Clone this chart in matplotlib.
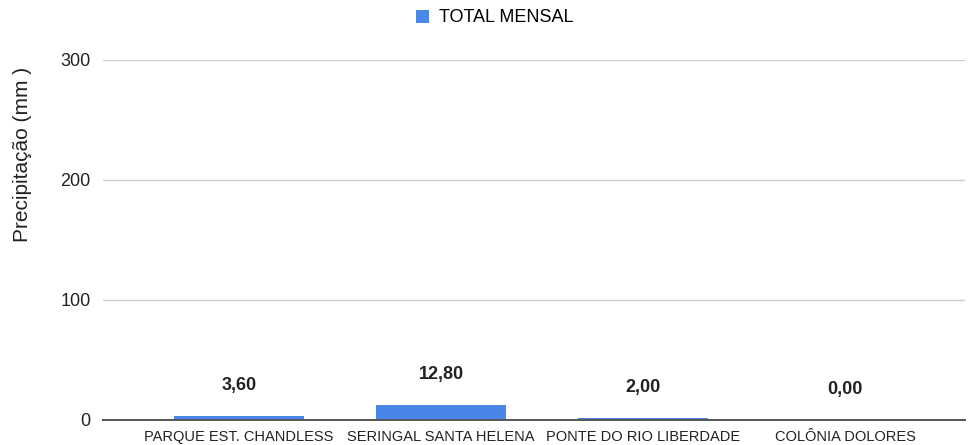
import matplotlib.pyplot as plt

plt.rcParams['font.family'] = ['Liberation Sans', 'DejaVu Sans']

# -----------------------------
# Data
# -----------------------------
stations = ["PARQUE EST. CHANDLESS", "SERINGAL SANTA HELENA",
            "PONTE DO RIO LIBERDADE", "COLÔNIA DOLORES"]
total_mensal = [3.60, 12.80, 2.00, 0.00]
y_ticks = [0, 100, 200, 300]

bar_color = "#4a86e8"

# -----------------------------
# Plot
# -----------------------------
fig = plt.figure(figsize=(9.72, 4.45), dpi=100)
ax = fig.add_axes([103 / 972, 25 / 445, (965 - 103) / 972, 360 / 445])

x = range(len(stations))
bars = ax.bar(x, total_mensal, width=0.64, color=bar_color, label="TOTAL MENSAL", zorder=3)

for xi, v in zip(x, total_mensal):
    ax.annotate(f"{v:.2f}".replace(".", ","), (xi, v), xytext=(0, 22),
                textcoords="offset points", ha="center", va="center",
                fontsize=13, fontweight="bold", color="#222222")

ax.set_xlim(-0.673, 3.594)
ax.set_ylim(0, 300)
ax.set_yticks(y_ticks)
ax.set_xticks(list(x))
ax.set_xticklabels(stations, fontsize=10.5, color="#222222")
ax.tick_params(axis="y", labelsize=13, colors="#222222", length=0, pad=9)
ax.tick_params(axis="x", length=0, pad=7)

ax.grid(axis="y", color="#cccccc", linewidth=1, zorder=0)
for s in ["top", "right", "left"]:
    ax.spines[s].set_visible(False)
ax.spines["bottom"].set_color("#555555")
ax.spines["bottom"].set_linewidth(1.4)
ax.spines["bottom"].set_zorder(4)

# y label sits higher than the axes centre in the original
fig.text(23 / 972, 1 - 154 / 445, "Precipitação (mm )", rotation=90,
         ha="center", va="center", fontsize=15, color="#222222")

fig.legend(handles=[bars], labels=["TOTAL MENSAL"], loc="center",
           bbox_to_anchor=(495 / 972, 1 - 18 / 445), frameon=False,
           fontsize=13, handlelength=0.7, handleheight=0.7, handletextpad=0.6)

plt.savefig("out.png", dpi=100)
plt.close()
